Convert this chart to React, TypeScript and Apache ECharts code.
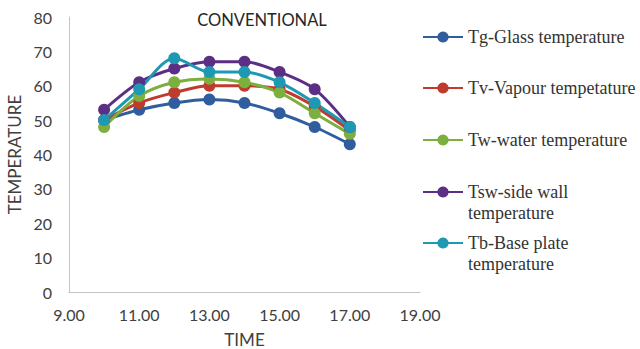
import React, { useEffect, useRef } from "react";
import * as echarts from "echarts";

const times = [10, 11, 12, 13, 14, 15, 16, 17];
const xTicks = [9, 11, 13, 15, 17, 19];
const tgGlass = [50, 53, 55, 56, 55, 52, 48, 43];
const tvVapour = [50, 55, 58, 60, 60, 59, 54, 47];
const twWater = [48, 57, 61, 62, 61, 58, 52, 46];
const tswSideWall = [53, 61, 65, 67, 67, 64, 59, 48];
const tbBasePlate = [50, 59, 68, 64, 64, 61, 55, 48];

const seriesNames = [
  "Tg-Glass temperature",
  "Tv-Vapour tempetature",
  "Tw-water temperature",
  "Tsw-side wall\ntemperature",
  "Tb-Base plate\ntemperature",
];
const seriesValues = [tgGlass, tvVapour, twWater, tswSideWall, tbBasePlate];
const colors = ["#2F5D9E", "#BE3B2E", "#7DAF3E", "#5C2E84", "#1E98B3"];

export default function App() {
  const ref = useRef<HTMLDivElement>(null);
  useEffect(() => {
    if (!ref.current) return;
    const chart = echarts.init(ref.current, null, { renderer: "svg" });
    const legendCenters = [37, 88, 140, 192, 243];
    const legends = seriesNames.map((name, i) => {
      const twoLine = name.includes("\n");
      return {
        data: [name],
        left: 422,
        top: twoLine ? legendCenters[i] - 31.5 : legendCenters[i] - 10.5,
        orient: "vertical",
        padding: 0,
        itemWidth: 40,
        itemHeight: 14,
        formatter: (n: string) => (n.includes("\n") ? "\n" + n : n),
        textStyle: {
          fontFamily: "Liberation Serif",
          fontSize: 18,
          color: "#333333",
          lineHeight: 21,
        },
      };
    });
    chart.setOption({
      animation: false,
      color: colors,
      title: {
        text: "CONVENTIONAL",
        left: 257,
        top: 6,
        textAlign: "center",
        textStyle: { fontFamily: "Lato", fontSize: 16.5, fontWeight: "normal", color: "#262626" },
      },
      legend: legends,
      grid: { left: 69, top: 17, right: 220, bottom: 57, containLabel: false, outerBoundsMode: "none" },
      xAxis: {
        type: "value",
        min: xTicks[0],
        max: xTicks[xTicks.length - 1],
        interval: 2,
        name: "TIME",
        nameLocation: "middle",
        nameGap: 39,
        nameTextStyle: { fontFamily: "Lato", fontSize: 17, color: "#404040" },
        axisLine: { lineStyle: { color: "#c4c4c4", width: 1 } },
        axisTick: { show: false },
        splitLine: { show: false },
        axisLabel: {
          margin: 14,
          fontFamily: "Lato",
          fontSize: 16,
          color: "#404040",
          formatter: (v: number) => v.toFixed(2),
        },
      },
      yAxis: {
        type: "value",
        min: 0,
        max: 80,
        interval: 10,
        name: "TEMPERATURE",
        nameLocation: "middle",
        nameGap: 45,
        nameRotate: 90,
        nameTextStyle: { fontFamily: "Lato", fontSize: 17, color: "#404040" },
        axisLine: { show: true, lineStyle: { color: "#c4c4c4", width: 1 } },
        axisTick: { show: false },
        splitLine: { show: false },
        axisLabel: { margin: 17, fontFamily: "Lato", fontSize: 16, color: "#404040" },
      },
      series: seriesNames.map((name, i) => ({
        name,
        type: "line",
        smooth: 0.3,
        symbol: "circle",
        symbolSize: 12,
        lineStyle: { width: 3, color: colors[i] },
        itemStyle: { color: colors[i] },
        data: times.map((t, j) => [t, seriesValues[i][j]]),
      })),
    });
    return () => chart.dispose();
  }, []);
  return <div ref={ref} style={{ width: 640, height: 349, position: "absolute", left: 0, top: 0 }} />;
}
